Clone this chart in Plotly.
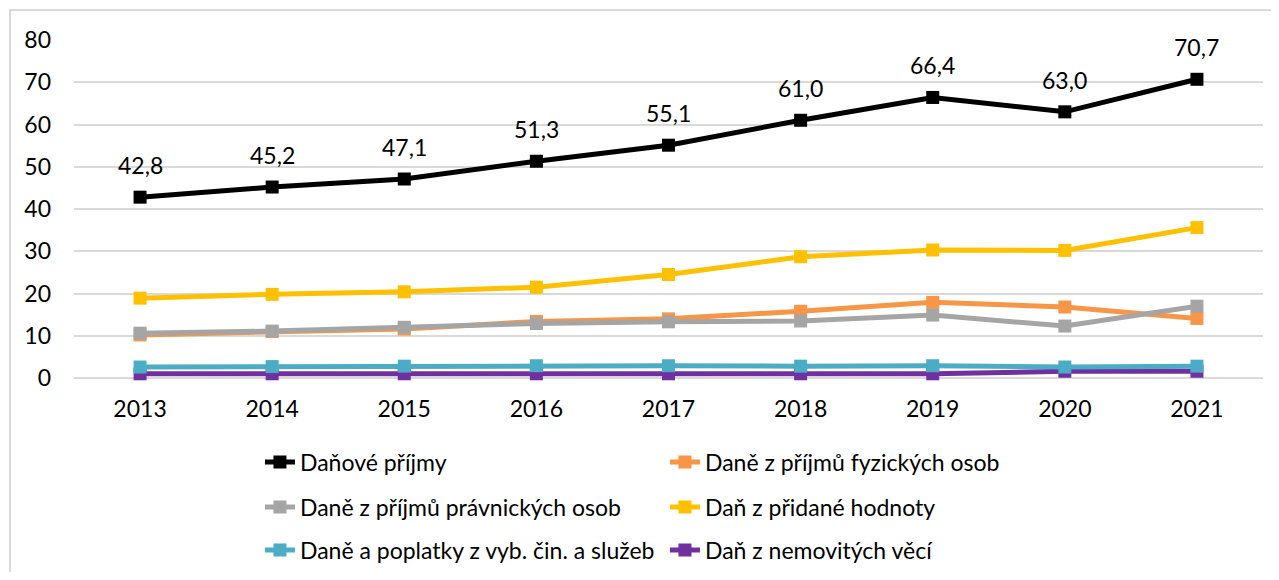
import plotly.graph_objects as go

years = ["2013", "2014", "2015", "2016", "2017", "2018", "2019", "2020", "2021"]

danove_prijmy = [42.8, 45.2, 47.1, 51.3, 55.1, 61.0, 66.4, 63.0, 70.7]
dpfo = [10.2, 11.0, 11.6, 13.4, 14.0, 15.8, 17.9, 16.8, 14.1]
dppo = [10.6, 11.1, 12.0, 12.9, 13.3, 13.5, 14.9, 12.3, 17.0]
dph = [18.9, 19.8, 20.4, 21.5, 24.5, 28.7, 30.3, 30.2, 35.6]
poplatky = [2.6, 2.7, 2.8, 2.9, 2.9, 2.8, 2.9, 2.6, 2.8]
nemovitosti = [1.0, 1.0, 1.0, 1.0, 1.0, 1.0, 1.0, 1.6, 1.6]

names = ["Daňové příjmy", "Daně z příjmů fyzických osob", "Daně z příjmů právnických osob",
         "Daň z přidané hodnoty", "Daně a poplatky z vyb. čin. a služeb", "Daň z nemovitých věcí"]
series = [danove_prijmy, dpfo, dppo, dph, poplatky, nemovitosti]
colors = ["#000000", "#F79646", "#A5A5A5", "#FFC000", "#4BACC6", "#7030A0"]
legends = ["legend", "legend", "legend2", "legend2", "legend3", "legend3"]

FONT = "Lato"
FS = 23

fig = go.Figure()
# draw order: bottom series first, black on top
for i in [5, 4, 3, 1, 2, 0]:
    fig.add_trace(go.Scatter(
        x=years, y=series[i], name=names[i], mode="lines+markers",
        line=dict(color=colors[i], width=5),
        marker=dict(symbol="square", size=13, color=colors[i]),
        legend=legends[i], legendrank=i, cliponaxis=False))

# data labels above the black series (category index as x, years look numeric)
for idx, v in enumerate(danove_prijmy):
    fig.add_annotation(x=idx, y=v, text=f"{v:.1f}".replace(".", ","), showarrow=False,
                       yshift=32, font=dict(family=FONT, size=FS, color="#000000"))

# light frame around the chart area
fig.add_shape(type="rect", xref="paper", yref="paper", x0=-0.0538, x1=1.03, y0=-0.7, y1=1.0888,
              line=dict(color="#D9D9D9", width=2), fillcolor="rgba(0,0,0,0)")

leg = dict(orientation="h", x=0.1564, xanchor="left", yanchor="middle", entrywidth=360,
           font=dict(family=FONT, size=FS, color="#000000"),
           bgcolor="rgba(0,0,0,0)", traceorder="normal")
fig.update_layout(
    legend=dict(leg, y=-0.2485),
    legend2=dict(leg, y=-0.3817),
    legend3=dict(leg, y=-0.509),
)

fig.update_xaxes(type="category", range=[-0.5, 8.5], showgrid=False, showline=False, ticks="",
                 tickfont=dict(family=FONT, size=FS, color="#000000"), ticklabelstandoff=15)
fig.update_yaxes(range=[0, 80], dtick=10, showgrid=True, gridcolor="#D9D9D9", gridwidth=2,
                 zeroline=True, zerolinecolor="#D9D9D9", zerolinewidth=2, showline=False,
                 tickfont=dict(family=FONT, size=FS, color="#000000"), ticklabelstandoff=22)

# page body has an 8px margin, so the figure is sized and shifted to fit 1279x580
fig.update_layout(width=1263, height=564,
                  margin=dict(l=66, r=8, t=32, b=194, autoexpand=False),
                  plot_bgcolor="white", paper_bgcolor="white",
                  font=dict(family=FONT, size=FS, color="#000000"), showlegend=True)

fig.write_html("out.html")
